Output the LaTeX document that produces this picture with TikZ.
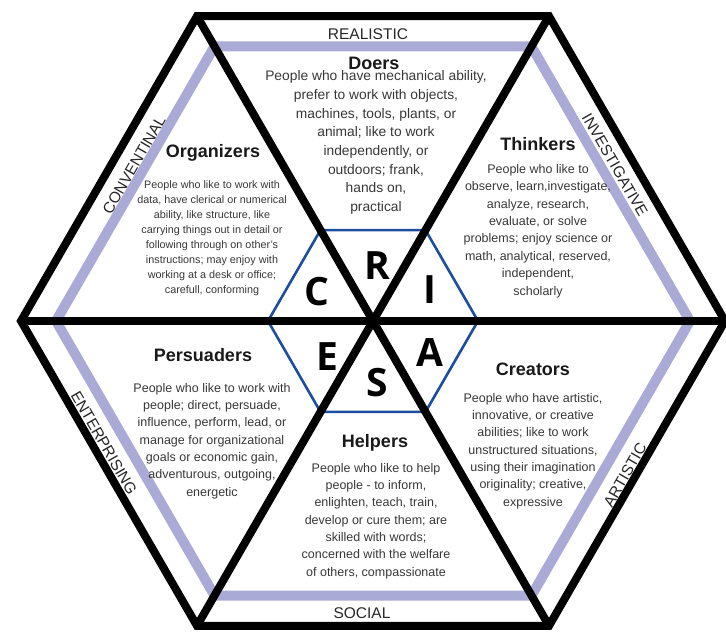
\documentclass[tikz,border=0pt]{standalone}
\usepackage{fontspec}
\setmainfont{Liberation Sans}
\newfontfamily\letterfont{Open Sans}
\definecolor{bandlav}{RGB}{170,170,214}
\definecolor{hexblue}{RGB}{28,78,160}
\definecolor{bodygray}{RGB}{55,55,55}

\begin{document}
\begin{tikzpicture}[x=1pt,y=-1pt,
	frame/.style={line width=8pt,line join=miter},
	band/.style={line width=10pt,draw=bandlav},
	inner/.style={line width=2.6pt,draw=hexblue},
	side/.style={font=\fontsize{15.5}{16}\selectfont,text=black!85,inner sep=0pt},
	letter/.style={font=\letterfont\bfseries\fontsize{39}{40}\selectfont,inner sep=0pt},
	title/.style={font=\bfseries\fontsize{18}{20}\selectfont,text=black!90,inner sep=0pt},
	body/.style={align=center,text=bodygray,inner sep=0pt}]
	\useasboundingbox (0,0) rectangle (726,634);
	\begin{scope}[shift={(373,321)}]
		\draw[band] (0:317)--(60:317)--(120:317)--(180:317)--(240:317)--(300:317)--cycle;
		\draw[inner] (0:105)--(60:105)--(120:105)--(180:105)--(240:105)--(300:105)--cycle;
		\draw[frame] (0:352)--(60:352)--(120:352)--(180:352)--(240:352)--(300:352)--cycle;
		\foreach \a in {0,60,120}
			\draw[line width=8pt] (\a:352)--(\a+180:352);
	\end{scope}
	% letters
	\node[letter] (r) at (377,266) {R};
	\node[letter] (i) at (430,290) {I};
	\node[letter] (a) at (430,353) {A};
	\node[letter] (s) at (377,383) {S};
	\node[letter] (e) at (327,357) {E};
	\node[letter] (c) at (317,292) {C};
	% side names
	\node[side] (realistic) at (368,34) {REALISTIC};
	\node[side,rotate=-60] (investigative) at (615,165) {INVESTIGATIVE};
	\node[side,rotate=60] (artistic) at (625,475) {ARTISTIC};
	\node[side] (social) at (362,613) {SOCIAL};
	\node[side,rotate=-60] (enterprising) at (104,443) {ENTERPRISING};
	\node[side,rotate=60] (conventinal) at (134,165) {CONVENTINAL};
	% the six groups
	\node[title] (doers) at (374,63) {Doers};
	\node[body,font=\fontsize{13.8}{18.7}\selectfont] (doersTxt) at (376,142.5)
		{People who have mechanical ability,\\ prefer to work with objects,\\ machines, tools, plants, or\\
		animal; like to work\\ independently, or\\ outdoors; frank,\\ hands on,\\ practical};
	\node[title] (thinkers) at (538,144) {Thinkers};
	\node[body,font=\fontsize{12.5}{17.4}\selectfont] (thinkersTxt) at (538,231)
		{People who like to\\ observe, learn,investigate,\\ analyze, research,\\ evaluate, or solve\\
		problems; enjoy science or\\ math, analytical, reserved,\\ independent,\\ scholarly};
	\node[title] (creators) at (533,369) {Creators};
	\node[body,font=\fontsize{12.5}{17.3}\selectfont] (creatorsTxt) at (533,451)
		{People who have artistic,\\ innovative, or creative\\ abilities; like to work\\
		unstructured situations,\\ using their imagination\\ originality; creative,\\ expressive};
	\node[title] (helpers) at (375,443) {Helpers};
	\node[body,font=\fontsize{12.5}{17.3}\selectfont] (helpersTxt) at (376,521)
		{People who like to help\\ people - to inform,\\ enlighten, teach, train,\\ develop or cure them; are\\
		skilled with words;\\ concerned with the welfare\\ of others, compassionate};
	\node[title] (persuaders) at (203,355) {Persuaders};
	\node[body,font=\fontsize{12.5}{17.3}\selectfont] (persuadersTxt) at (212,441)
		{People who like to work with\\ people; direct, persuade,\\ influence, perform, lead, or\\
		manage for organizational\\ goals or economic gain,\\ adventurous, outgoing,\\ energetic};
	\node[title] (organizers) at (213,153) {Organizers};
	\node[body,font=\fontsize{10.8}{15}\selectfont] (organizersTxt) at (212,238)
		{People who like to work with\\ data, have clerical or numerical\\ ability, like structure, like\\
		carrying things out in detail or\\ following through on other's\\ instructions; may enjoy with\\
		working at a desk or office;\\ carefull, conforming};
	%	\draw[dashed] (r) -- (s);
\end{tikzpicture}
\end{document}
